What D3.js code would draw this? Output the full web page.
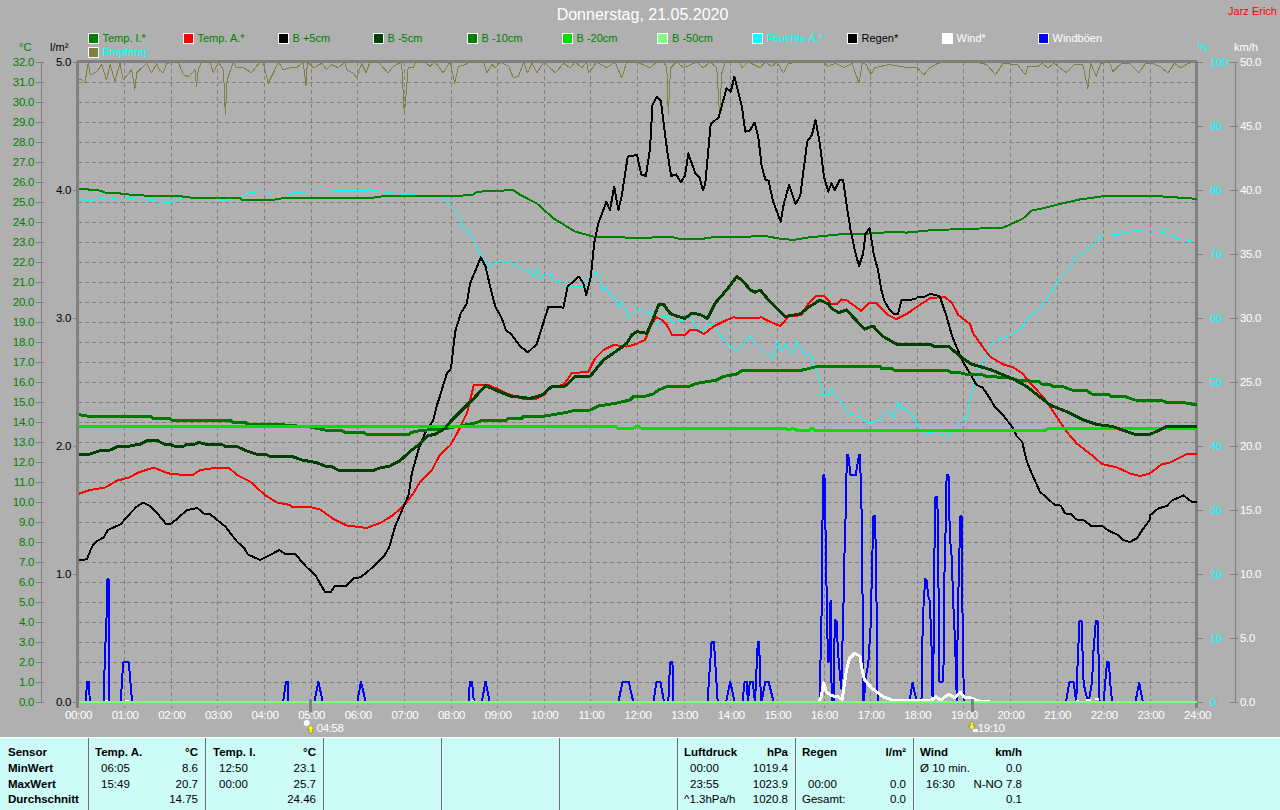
<!DOCTYPE html>
<html><head><meta charset="utf-8">
<script src="https://cdn.jsdelivr.net/npm/d3@7"></script>
<style>
html,body{margin:0;padding:0;background:#b0b0b0;overflow:hidden}
svg{display:block}
text{font-family:"Liberation Sans",Arial,sans-serif;font-size:11px}
.crisp{shape-rendering:crispEdges}
</style></head><body>
<svg id="c" width="1280" height="810"></svg>
<script>
const titleText="Donnerstag, 21.05.2020";
const authorText="Jarz Erich";
const hourLabels=["00:00","01:00","02:00","03:00","04:00","05:00","06:00","07:00","08:00","09:00","10:00","11:00","12:00","13:00","14:00","15:00","16:00","17:00","18:00","19:00","20:00","21:00","22:00","23:00","24:00"];
const tempTicks=d3.range(0,33);
const rainTicks=[0,1,2,3,4,5];
const humTicks=[0,10,20,30,40,50,60,70,80,90,100];
const windTicks=[0,5,10,15,20,25,30,35,40,45,50];
const legendRow1=["Temp. I.*","Temp. A.*","B +5cm","B -5cm","B -10cm","B -20cm","B -50cm","Feuchte A.*","Regen*","Wind*","Windböen"];
const legendRow1Colors=["#008000","#ff0000","#000000","#004000","#008000","#00e000","#80ff80","#00ffff","#000000","#ffffff","#0000ff"];
const legendRow1Text=["#008000","#008000","#008000","#008000","#008000","#008000","#008000","#00ffff","#000000","#ffffff","#ffffff"];
const legendRow2=["Empfang"];

const tempInside=[[0,25.65],[.22,25.63],[.26,25.6],[.48,25.57],[.59,25.47],[.91,25.43],[.94,25.38],[1.23,25.37],[1.51,25.3],[2.23,25.3],[2.26,25.23],[3.48,25.18],[3.51,25.1],[4.16,25.1],[4.37,25.18],[6.34,25.22],[6.62,25.32],[8.24,25.32],[8.49,25.38],[8.52,25.47],[8.74,25.55],[9.09,25.57],[9.33,25.6],[9.49,25.35],[9.84,24.93],[10.2,24.18],[10.66,23.52],[11.06,23.27],[11.56,23.27],[11.91,23.18],[12.7,23.27],[12.91,23.15],[13.41,23.15],[13.49,23.22],[14.41,23.27],[14.7,23.32],[15.02,23.18],[15.34,23.1],[15.63,23.22],[16.41,23.4],[17.09,23.43],[17.48,23.52],[17.77,23.47],[18.34,23.6],[19.06,23.65],[19.84,23.72],[20.13,24.02],[20.27,24.18],[20.45,24.57],[20.63,24.65],[21.06,24.9],[21.49,25.13],[22.03,25.3],[22.99,25.32],[23.92,25.17],[24,25.15]];

const tempOutside=[[0,10.4],[.26,10.6],[.59,10.73],[.84,11.07],[1.09,11.22],[1.3,11.48],[1.62,11.72],[1.94,11.43],[2.19,11.37],[2.48,11.37],[2.62,11.6],[2.98,11.72],[3.23,11.72],[3.41,11.35],[3.69,11.02],[4.01,10.35],[4.26,9.98],[4.55,9.85],[4.59,9.75],[4.98,9.75],[5.19,9.63],[5.48,9.15],[5.76,8.83],[6.19,8.7],[6.51,8.98],[6.76,9.35],[7,9.85],[7.19,10.43],[7.34,11.02],[7.59,11.6],[7.76,12.35],[7.99,12.85],[8.13,13.43],[8.34,14.43],[8.49,15.85],[8.81,15.85],[9.2,15.43],[9.49,15.18],[9.81,15.13],[9.99,15.35],[10.16,15.77],[10.41,15.85],[10.59,16.43],[10.95,16.52],[11.09,17.18],[11.27,17.6],[11.49,17.85],[11.77,17.77],[11.91,17.85],[12.16,18.1],[12.31,18.93],[12.41,19.23],[12.52,19.1],[12.63,18.85],[12.74,18.35],[13.02,18.35],[13.13,18.6],[13.27,18.6],[13.43,18.4],[13.63,18.77],[13.88,19.07],[14.06,19.23],[14.38,19.18],[14.66,19.23],[14.84,19.02],[15.06,18.8],[15.24,19.27],[15.52,19.35],[15.66,19.9],[15.84,20.32],[16,20.32],[16.16,19.9],[16.29,19.9],[16.37,20.13],[16.48,20.1],[16.8,19.55],[16.98,19.97],[17.12,19.93],[17.37,19.35],[17.55,19.15],[17.77,19.4],[17.98,19.73],[18.27,20.18],[18.59,20.27],[18.75,19.93],[18.88,19.35],[19.13,18.9],[19.2,18.43],[19.45,17.6],[19.56,17.27],[19.84,16.88],[20.06,16.73],[20.27,16.4],[20.42,15.93],[20.7,15.27],[20.99,14.27],[21.2,13.52],[21.42,12.93],[21.74,12.35],[21.96,11.9],[22.28,11.73],[22.56,11.43],[22.78,11.3],[22.99,11.43],[23.24,11.88],[23.42,11.97],[23.78,12.4],[24,12.4]];

const soilPlus5=[[0,7.1],[.19,7.13],[.3,7.77],[.39,8.02],[.55,8.23],[.64,8.6],[.91,8.88],[1.12,9.43],[1.26,9.77],[1.39,9.97],[1.55,9.8],[1.73,9.35],[1.89,8.9],[2.01,8.93],[2.34,9.6],[2.56,9.7],[2.69,9.43],[2.84,9.38],[3.16,8.77],[3.41,8.02],[3.57,7.68],[3.64,7.38],[3.91,7.1],[4.12,7.35],[4.32,7.6],[4.44,7.4],[4.66,7.4],[4.89,6.77],[5.09,6.35],[5.19,5.93],[5.3,5.5],[5.42,5.5],[5.51,5.8],[5.75,5.8],[5.91,6.18],[6.05,6.23],[6.19,6.47],[6.37,6.85],[6.56,7.27],[6.68,7.77],[6.8,8.77],[7.09,10.35],[7.16,11.43],[7.3,12.6],[7.44,13.43],[7.62,14.1],[7.69,14.77],[7.76,15.27],[7.91,16.43],[8,16.68],[8.09,18.52],[8.21,19.43],[8.34,19.93],[8.41,20.93],[8.64,22.23],[8.74,21.77],[8.84,20.77],[8.95,19.77],[9.09,19.18],[9.18,18.57],[9.29,18.4],[9.49,17.77],[9.65,17.48],[9.84,17.9],[10.09,19.77],[10.16,19.77],[10.41,19.72],[10.5,20.77],[10.74,21.27],[10.84,20.93],[10.9,20.35],[11,21.27],[11.07,22.93],[11.16,23.93],[11.33,25],[11.41,24.6],[11.5,25.77],[11.59,24.6],[11.66,25.27],[11.79,27.27],[11.99,27.35],[12.08,26.38],[12.18,26.3],[12.27,27.68],[12.32,29.85],[12.41,30.27],[12.5,30.07],[12.63,27.68],[12.72,26.3],[12.83,26.38],[12.93,25.98],[13.02,26.32],[13.09,27.43],[13.24,26.43],[13.33,26.23],[13.4,25.6],[13.45,25.85],[13.57,28.9],[13.74,29.23],[13.91,30.68],[14,30.52],[14.08,31.27],[14.24,29.77],[14.31,28.52],[14.41,28.57],[14.51,28.97],[14.59,28.27],[14.66,26.85],[14.74,26.13],[14.81,26.07],[14.91,25.02],[15.07,24.02],[15.14,24.93],[15.25,25.85],[15.39,24.9],[15.49,25.3],[15.64,28.02],[15.74,28.35],[15.82,29.1],[15.91,27.93],[16,26.27],[16.09,25.52],[16.16,25.93],[16.23,25.6],[16.34,26.1],[16.41,26.1],[16.48,24.93],[16.57,23.6],[16.66,22.6],[16.75,21.8],[16.84,22.43],[16.89,23.43],[16.98,23.68],[17.07,22.35],[17.16,21.6],[17.23,20.6],[17.3,20.02],[17.41,19.6],[17.5,19.4],[17.59,19.4],[17.66,20.1],[17.95,20.13],[18.02,20.27],[18.13,20.23],[18.28,20.4],[18.48,20.3],[18.63,19.27],[18.73,18.43],[18.81,17.93],[18.98,17.02],[19.13,16.43],[19.27,15.85],[19.4,15.73],[19.56,15.18],[19.66,14.77],[19.84,14.35],[20.06,13.68],[20.13,13.3],[20.25,13.02],[20.35,12.02],[20.47,11.35],[20.63,10.52],[20.95,9.85],[21.08,9.82],[21.17,9.43],[21.31,9.38],[21.4,9.13],[21.56,9.1],[21.73,8.8],[21.96,8.82],[22.1,8.57],[22.31,8.35],[22.42,8.1],[22.56,8],[22.71,8.18],[22.85,8.68],[22.98,9.07],[23,9.35],[23.17,9.68],[23.35,9.8],[23.46,10.07],[23.71,10.33],[23.89,10],[24,10]];

const soilMinus5=[[0,12.38],[.26,12.4],[.48,12.57],[.69,12.6],[.84,12.77],[1.12,12.8],[1.34,12.9],[1.51,13.1],[1.68,13.1],[1.84,12.9],[1.98,12.88],[2.09,12.77],[2.26,12.78],[2.34,12.9],[2.51,12.9],[2.59,12.98],[2.76,12.88],[3.09,12.88],[3.16,12.78],[3.41,12.77],[3.62,12.55],[3.84,12.38],[4.05,12.35],[4.12,12.28],[4.59,12.28],[4.8,12.1],[5.12,11.97],[5.3,11.8],[5.44,11.77],[5.59,11.58],[6.34,11.58],[6.44,11.68],[6.69,11.8],[6.91,12.07],[7.12,12.52],[7.3,12.85],[7.51,13.32],[7.66,13.38],[7.87,13.68],[7.99,14.02],[8.2,14.52],[8.49,15.18],[8.74,15.82],[8.95,15.6],[9.27,15.3],[9.7,15.18],[9.95,15.35],[10.16,15.77],[10.45,15.8],[10.66,16.27],[10.99,16.3],[11.27,17.1],[11.63,17.68],[11.77,17.93],[11.88,18.35],[11.99,18.52],[12.2,18.43],[12.34,19.18],[12.45,19.85],[12.56,19.88],[12.7,19.43],[12.84,19.3],[13.02,19.18],[13.16,19.43],[13.34,19.38],[13.5,19.18],[13.66,19.93],[13.91,20.6],[14.13,21.27],[14.24,21.1],[14.41,20.63],[14.52,20.48],[14.63,20.6],[14.84,20.02],[14.91,19.88],[15.16,19.27],[15.48,19.4],[15.69,19.77],[15.91,20.1],[16.09,19.9],[16.19,19.63],[16.32,19.47],[16.48,19.6],[16.87,18.65],[17.05,18.8],[17.27,18.27],[17.55,17.9],[18.27,17.9],[18.34,17.8],[18.66,17.8],[18.98,17.18],[19.16,16.9],[19.59,16.6],[20.06,16.15],[20.35,15.77],[20.85,14.85],[21.2,14.52],[21.56,14.1],[21.85,13.88],[22.2,13.77],[22.64,13.4],[22.99,13.38],[23.35,13.77],[24,13.77]];

const soilMinus10=[[0,14.38],[.19,14.3],[1.55,14.3],[1.59,14.2],[1.94,14.2],[2.01,14.1],[3.26,14.1],[3.3,14],[3.59,14],[3.62,13.9],[4.26,13.88],[4.98,13.75],[5.3,13.6],[5.66,13.57],[5.73,13.48],[6.12,13.48],[6.19,13.38],[7.09,13.38],[7.16,13.48],[7.34,13.58],[7.84,13.65],[8.49,13.93],[8.7,14.1],[9.2,14.1],[9.23,14.18],[9.52,14.18],[9.56,14.3],[10.02,14.3],[10.45,14.47],[10.63,14.57],[10.99,14.6],[11.16,14.8],[11.52,14.93],[11.84,15.1],[11.91,15.27],[12.13,15.27],[12.34,15.4],[12.45,15.6],[12.63,15.77],[13.13,15.8],[13.27,15.93],[13.7,16.1],[13.84,16.27],[14.13,16.4],[14.24,16.57],[15.48,16.57],[15.69,16.68],[15.84,16.77],[17.2,16.77],[17.23,16.68],[17.45,16.68],[17.52,16.57],[18.66,16.57],[18.73,16.48],[18.91,16.47],[19.06,16.38],[19.41,16.35],[19.49,16.27],[19.92,16.23],[20.13,16.1],[20.6,16.02],[20.67,15.9],[20.85,15.87],[20.92,15.77],[21.13,15.77],[21.31,15.6],[21.63,15.57],[21.74,15.4],[22.1,15.38],[22.17,15.27],[22.46,15.27],[22.67,15.1],[23.24,15.08],[23.35,14.98],[23.71,14.97],[24,14.85]];

const soilMinus20=[[0,13.78],[11.52,13.78],[11.59,13.68],[11.91,13.68],[12,13.8],[12.09,13.68],[15.16,13.68],[15.24,13.6],[15.33,13.68],[15.41,13.6],[15.7,13.6],[15.74,13.7],[15.81,13.58],[20.74,13.58],[20.81,13.68],[24,13.68]];
const soilMinus50=[[0,0],[24,0]];
const rainfall=[[0,0],[24,0]];

const humidity=[[0,79.06],[.12,78.4],[.26,78.3],[.62,78.85],[.91,78.5],[1.34,78.85],[1.69,78.2],[1.98,78],[2.26,78.8],[2.84,78.8],[3.12,78.3],[3.51,78.96],[3.62,79.5],[3.98,79.84],[4.19,79.2],[4.48,79.1],[4.62,79.6],[5.26,79.8],[6.26,80],[6.59,79.7],[6.87,79.4],[7.8,78.96],[8.05,77.1],[8.16,76.35],[8.21,74.5],[8.34,74],[8.66,69.57],[8.81,68.1],[9.06,69.05],[9.17,68.5],[9.24,68.8],[9.45,68],[9.56,67.2],[9.69,67.5],[9.76,66.45],[9.84,67.75],[9.91,66.2],[10.04,67],[10.13,67],[10.24,65.5],[10.34,66],[10.45,65.5],[10.59,64.9],[10.81,64.9],[10.95,66.2],[11.13,67.2],[11.27,64.26],[11.34,65],[11.41,63.4],[11.5,63.6],[11.59,61.76],[11.66,62.7],[11.81,59.9],[12.02,61.5],[12.2,60.7],[12.27,61],[12.41,58.9],[12.52,60.2],[12.63,60.3],[12.75,59.26],[12.99,59.7],[13.16,59.9],[13.31,58.2],[13.41,58],[13.49,59.15],[13.63,58.9],[13.77,57.3],[14.02,55.25],[14.16,55],[14.41,57.2],[14.59,55.1],[14.74,55],[14.9,53.6],[15,56.4],[15.08,54.7],[15.16,55.9],[15.34,54.5],[15.41,56.55],[15.52,54.7],[15.74,54.05],[15.87,50.8],[16,48],[16.09,48],[16.16,49.16],[16.23,48],[16.34,47.2],[16.52,45.1],[16.8,44.5],[16.91,43.7],[17.16,43.54],[17.3,45.1],[17.41,45.6],[17.5,44.3],[17.59,46.9],[17.66,45.9],[17.77,45.7],[17.91,44.6],[18.02,43],[18.18,42.1],[18.3,42.1],[18.48,41.9],[18.64,41.45],[18.81,42.76],[18.88,43.8],[19.06,44.3],[19.14,47.7],[19.24,49.8],[19.34,52.4],[19.49,54.2],[19.59,55.9],[19.7,56.6],[19.99,57.3],[20.24,58.4],[20.35,59.95],[20.6,61.25],[20.88,64.1],[21.06,66.2],[21.28,67.8],[21.38,69.3],[21.63,70.6],[21.81,71.7],[21.96,72.9],[22.28,73],[22.64,73.64],[22.99,73.85],[23.14,73.75],[23.53,72.45],[23.92,72]];

const reception=[[0,97.2],[.08,97.2],[.15,96.7],[.22,100],[.26,98],[.4,98.5],[.51,99.6],[.61,97.2],[.69,99.6],[.79,97],[.9,99.8],[.97,97.2],[1.15,98.8],[1.22,95.7],[1.26,98.3],[1.47,99.8],[1.58,98.3],[1.69,99.8],[1.74,98.8],[1.83,98.3],[1.9,99.8],[2.15,100],[2.26,98],[2.37,97.7],[2.51,98.8],[2.54,96.2],[2.58,98.8],[2.65,100],[2.83,100],[2.9,98.4],[3.01,100],[3.12,98.8],[3.16,91.8],[3.2,97.2],[3.26,98.5],[3.33,100],[3.4,99.1],[3.55,99.1],[3.72,98.3],[3.9,100],[3.97,100],[4.08,96.7],[4.19,98.3],[4.3,100],[4.4,98.8],[4.55,99.1],[4.69,99.1],[4.83,100],[4.89,96.3],[4.92,100],[5.05,99.1],[5.23,99.8],[5.33,98.8],[5.44,99.6],[5.58,99.1],[5.73,100],[5.76,98.8],[5.9,98.3],[5.98,97.5],[6.08,99.8],[6.18,98.3],[6.26,100],[6.44,100],[6.55,99.1],[6.65,98.3],[6.76,99.3],[6.83,99.6],[6.94,100],[7,91.8],[7.05,96.2],[7.08,99.1],[7.19,99.1],[7.25,100],[7.44,100],[7.55,99.3],[7.66,100],[7.73,99.3],[7.83,98.3],[7.98,100],[8.08,96.7],[8.16,99.3],[8.31,99.6],[8.41,100],[8.7,100],[8.77,98.3],[8.88,99.6],[8.95,99.1],[9.06,100],[9.24,99.3],[9.34,97.5],[9.45,97.8],[9.56,100],[9.64,98.3],[9.74,99.8],[9.84,98.3],[9.99,100],[10.24,98.3],[10.41,99.8],[10.56,99.1],[10.66,100],[10.81,99.1],[10.91,100],[10.95,98.3],[11.13,100],[11.34,99.1],[11.52,100],[11.66,97.5],[11.77,100],[11.99,100],[12.27,99.1],[12.41,100],[12.56,100],[12.63,99.1],[12.66,91.8],[12.71,99.1],[12.84,100],[12.99,99.1],[13.27,100],[13.41,99.1],[13.56,100],[13.7,99.1],[13.76,91.8],[13.81,98.3],[13.88,100],[14.2,100],[14.24,99.1],[14.38,100],[14.63,99.1],[14.74,100],[14.88,99.3],[14.99,100],[15.13,98.3],[15.24,99.8],[15.63,100],[15.99,100],[16.08,99.3],[16.25,99.8],[16.43,99.1],[16.6,99.8],[16.75,96.7],[16.82,99.8],[16.91,99.6],[17,98],[17.09,99.1],[17.39,99.6],[17.65,99.3],[17.83,99.1],[18,99.1],[18.14,98],[18.27,99.1],[18.44,99.8],[18.7,100],[19.27,100],[19.49,99.6],[19.68,98],[19.84,99.8],[20.15,99.6],[20.32,98],[20.37,99.3],[20.59,99.3],[20.67,99.8],[20.8,99.1],[20.94,99.8],[21.2,98.3],[21.37,99.6],[21.55,99.6],[21.66,95.9],[21.72,99.8],[21.84,97.8],[21.94,99.8],[22.12,100],[22.2,98.5],[22.38,99.8],[22.55,99.8],[22.75,98.3],[22.9,99.8],[23.03,99.8],[23.21,99.3],[23.38,98.3],[23.52,99.8],[23.65,99.1],[23.82,99.8],[24,100]];

const gusts=[[0,0],[.16,0],[.2,1.6],[.24,1.6],[.25,0],[.565,0],[.57,3.1],[.61,6.3],[.63,9.6],[.655,9.6],[.66,0],[.915,0],[.97,3.1],[1.09,3.1],[1.16,0],[4.4,0],[4.46,1.6],[4.5,1.6],[4.51,0],[5.07,0],[5.155,1.6],[5.25,0],[5.99,0],[6.07,1.6],[6.17,0],[8.39,0],[8.4,1.6],[8.45,1.6],[8.49,0],[8.66,0],[8.74,1.6],[8.83,0],[11.59,0],[11.68,1.6],[11.81,1.6],[11.91,0],[12.34,0],[12.41,1.6],[12.49,1.6],[12.57,0],[12.66,0],[12.68,1.6],[12.7,3.1],[12.75,3.1],[12.76,0],[13.5,0],[13.59,4.7],[13.64,4.7],[13.72,0],[13.9,0],[13.99,1.6],[14.08,0],[14.25,0],[14.3,1.6],[14.34,1.6],[14.37,0],[14.41,1.6],[14.47,1.6],[14.52,0],[14.58,4.7],[14.61,4.7],[14.63,1.6],[14.66,0],[14.74,1.6],[14.81,1.6],[14.92,0],[15.91,0],[15.93,4.3],[15.96,8.7],[15.965,13.3],[15.98,17.7],[16.01,17.7],[16.03,13.9],[16.05,10.4],[16.06,6.8],[16.09,3.1],[16.12,3.3],[16.14,7.9],[16.15,7.9],[16.16,1.6],[16.18,0],[16.21,0],[16.23,6.4],[16.27,6.3],[16.3,3.9],[16.34,2.2],[16.37,1.04],[16.42,7.9],[16.44,11.6],[16.47,15.4],[16.49,19.3],[16.52,19.3],[16.57,17.7],[16.68,17.7],[16.75,19.3],[16.77,19.3],[16.8,16],[16.82,12.1],[16.84,0],[16.86,0],[16.88,1.6],[16.95,3],[17,5.9],[17.03,10.5],[17.06,14.5],[17.1,14.5],[17.11,10.8],[17.13,7.2],[17.15,0],[17.83,0],[17.9,1.5],[17.99,0],[18.09,0],[18.11,4.8],[18.13,7.2],[18.17,9.6],[18.2,9.5],[18.24,8.2],[18.27,7.9],[18.31,4],[18.33,0],[18.35,4],[18.37,12],[18.39,16],[18.43,16],[18.45,12.1],[18.47,1.6],[18.56,1.6],[18.58,9.5],[18.61,13.7],[18.63,17.7],[18.67,17.7],[18.7,12.9],[18.74,11.3],[18.77,7.9],[18.81,4.8],[18.85,0],[18.87,7.2],[18.9,10.8],[18.92,14.5],[18.95,14.5],[18.97,7.2],[19,0],[21.19,0],[21.26,1.5],[21.28,1.6],[21.35,1.6],[21.41,0],[21.44,3.1],[21.48,6.3],[21.53,6.3],[21.55,3.1],[21.57,1.4],[21.64,.3],[21.68,.1],[21.75,1.6],[21.78,4],[21.83,6.3],[21.87,6.3],[21.9,1.9],[21.91,0],[22,0],[22.03,1.5],[22.07,3.1],[22.11,3.1],[22.14,1.4],[22.18,0],[22.68,0],[22.76,1.5],[22.84,0],[24,0]];

const windEarly=[[[.58,.1],[.65,.1]],[[1,.1],[1.1,.1]],[[8.42,.1],[8.5,.1]],[[21.4,.1],[21.47,.1]],[[21.62,.15],[21.72,.15]],[[21.82,.25],[21.9,.25]]];
const windMain=[[15.89,0],[15.94,.4],[15.99,1.5],[16.05,.8],[16.16,.5],[16.3,.4],[16.39,.2],[16.44,1.4],[16.48,2.5],[16.55,3.4],[16.66,3.8],[16.77,3.6],[16.82,2.5],[16.87,1.7],[17.05,1],[17.27,.4],[17.48,.13],[17.99,.1],[18.13,.1],[18.31,.13],[18.4,.44],[18.5,.13],[18.67,.6],[18.81,.34],[18.92,.78],[19,.39],[19.13,.34],[19.31,.08],[19.56,.05]];

const sunrise={hour:4.97,label:"04:58"};
const sunset={hour:19.17,label:"19:10"};

const sensorNames=["Sensor","MinWert","MaxWert","Durchschnitt"];
const sensorA=["Temp. A.","06:05","15:49",""];
const sensorAVal=["°C","8.6","20.7","14.75"];
const sensorI=["Temp. I.","12:50","00:00",""];
const sensorIVal=["°C","23.1","25.7","24.46"];
const pressure=["Luftdruck","00:00","23:55","^1.3hPa/h"];
const pressureVal=["hPa","1019.4","1023.9","1020.8"];
const rainInfo=["Regen","","00:00","Gesamt:"];
const rainVal=["l/m²","","0.0","0.0"];
const windInfo=["Wind","Ø 10 min.","16:30",""];
const windVal=["km/h","0.0","N-NO 7.8","0.1"];

(function(){
const panelSep=[88.5,205,323,441,559,677.5,795.5,913.5];
const svg=d3.select("#c");
const GREY="#808080";
const pLeft=78,pRight=1197,pTop=62,pBottom=702;
const x=d3.scaleLinear().domain([0,24]).range([pLeft,pRight]);
const yT=d3.scaleLinear().domain([0,32]).range([pBottom,pTop]);
const yR=d3.scaleLinear().domain([0,5]).range([pBottom,pTop]);
const yH=d3.scaleLinear().domain([0,100]).range([pBottom,pTop]);
const yW=d3.scaleLinear().domain([0,50]).range([pBottom,pTop]);

svg.append("rect").attr("width",1280).attr("height",810).attr("fill","#b0b0b0");

const grid=svg.append("g").attr("class","crisp");
grid.selectAll(".h").data(tempTicks.slice(1,-1)).join("line").attr("class","h")
 .attr("x1",pLeft).attr("x2",pRight).attr("y1",d=>yT(d)).attr("y2",d=>yT(d))
 .attr("stroke",GREY).attr("stroke-dasharray","4 3");
grid.selectAll(".v").data(d3.range(1,24)).join("line").attr("class","v")
 .attr("x1",d=>x(d)).attr("x2",d=>x(d)).attr("y1",pTop).attr("y2",pBottom+6)
 .attr("stroke",GREY).attr("stroke-dasharray","4 3");

const frame=svg.append("g").attr("class","crisp");
frame.append("line").attr("x1",pLeft-1).attr("x2",pRight).attr("y1",pTop-1).attr("y2",pTop-1).attr("stroke",GREY).attr("stroke-width",3);
frame.append("line").attr("x1",pLeft-1).attr("x2",pLeft-1).attr("y1",pTop-1).attr("y2",pBottom+6).attr("stroke",GREY).attr("stroke-width",3);
frame.append("line").attr("x1",pRight-1).attr("x2",pRight-1).attr("y1",pTop-1).attr("y2",pBottom+6).attr("stroke",GREY).attr("stroke-width",3);

const lineOf=y=>d3.line().x(d=>x(d[0])).y(d=>y(d[1]));
function draw(data,y,color,w){
 svg.append("path").datum(data).attr("class","crisp").attr("fill","none")
  .attr("stroke",color).attr("stroke-width",w).attr("stroke-linejoin","round").attr("d",lineOf(y));
}
draw(reception,yH,"#808040",1);
draw(humidity,yH,"#00ffff",1);
draw(tempInside,yT,"#008000",2);
draw(rainfall,yR,"#000000",2);
draw(gusts,yW,"#0000ff",2);
windEarly.forEach(s=>draw(s,yW,"#ffffff",2));
draw(windMain,yW,"#ffffff",3);
draw(tempOutside,yT,"#ff0000",2);
draw(soilPlus5,yT,"#000000",2);
draw(soilMinus10,yT,"#007800",3);
draw(soilMinus20,yT,"#00e000",3);
draw(soilMinus5,yT,"#004000",3);
draw(soilMinus50,yT,"#80ff80",2);

function styleAxis(g,color,lineColor){
 g.selectAll("text").attr("fill",color).style("font-size","11.5px").style("letter-spacing","-0.3px");
 g.selectAll("line").attr("stroke",lineColor).attr("class","crisp");
 g.selectAll("path").attr("stroke",lineColor).attr("class","crisp");
}
const aT=svg.append("g").attr("transform","translate(41,0)")
 .call(d3.axisLeft(yT).tickValues(tempTicks).tickFormat(d3.format(".1f")).tickSize(5).tickPadding(2));
styleAxis(aT,"#008000",GREY);
aT.selectAll(".tick line").attr("x2",3).attr("x1",-5);
const aR=svg.append("g").attr("transform","translate(78,0)")
 .call(d3.axisLeft(yR).tickValues(rainTicks).tickFormat(d3.format(".1f")).tickSize(5).tickPadding(2));
styleAxis(aR,"#000000",GREY);
aR.select(".domain").remove();
const aH=svg.append("g").attr("transform","translate(1197,0)")
 .call(d3.axisRight(yH).tickValues(humTicks).tickSize(6).tickPadding(3));
styleAxis(aH,"#00ffff",GREY);
aH.select(".domain").remove();
aH.selectAll("text").attr("dx",4);
const aW=svg.append("g").attr("transform","translate(1235,0)")
 .call(d3.axisRight(yW).tickValues(windTicks).tickFormat(d3.format(".1f")).tickSize(3).tickPadding(2));
styleAxis(aW,"#ffffff",GREY);
aW.selectAll(".tick line").attr("x1",-5);
const aX=svg.append("g").attr("transform",`translate(0,${pBottom})`)
 .call(d3.axisBottom(x).tickValues(d3.range(0,25)).tickFormat(d=>hourLabels[d]).tickSize(0).tickPadding(9));
aX.select(".domain").remove();
aX.selectAll("text").attr("fill","#ffffff").style("font-size","11.5px").style("letter-spacing","-0.4px");

function txt(s,xp,yp,color,opt={}){
 return svg.append("text").attr("x",xp).attr("y",yp).attr("fill",color)
  .attr("text-anchor",opt.anchor||"start").style("font-size",(opt.size||11)+"px")
  .style("font-weight",opt.bold?"bold":"normal").text(s);
}
txt("°C",19,51,"#008000");
txt("l/m²",50,51,"#000000");
txt("%",1198,51,"#00ffff");
txt("km/h",1234,51,"#ffffff");
txt(titleText,642.5,20,"#ffffff",{size:16,anchor:"middle"});
txt(authorText,1277,15,"#ff0000",{anchor:"end"});

const legendX=[88,183,278,373,467,562,657.5,752,847,942,1038];
legendRow1.forEach((name,i)=>{
 svg.append("rect").attr("class","crisp").attr("x",legendX[i]).attr("y",33).attr("width",10).attr("height",10)
  .attr("fill",legendRow1Colors[i]).attr("stroke","#ffffff");
 txt(name,legendX[i]+14.5,42,legendRow1Text[i]);
});
legendRow2.forEach(name=>{
 svg.append("rect").attr("class","crisp").attr("x",88).attr("y",47).attr("width",10).attr("height",10)
  .attr("fill","#808040").attr("stroke","#ffffff");
 txt(name,102.5,56,"#00ffff");
});

[sunrise,sunset].forEach(s=>{
 svg.append("rect").attr("class","crisp").attr("x",x(s.hour)-1).attr("y",pBottom-3).attr("width",3).attr("height",13).attr("fill",GREY);
});
svg.append("circle").attr("cx",x(sunrise.hour)-3).attr("cy",723).attr("r",3).attr("fill","#ffffff");
svg.append("path").attr("d",`M${x(sunrise.hour)+1},725l3.5,4h-2v4h-3v-4h-2z`).attr("fill","#ffff00").attr("stroke","#555").attr("stroke-width",0.4);
txt(sunrise.label,x(sunrise.hour)+7,732,"#ffffff",{size:11.5}).style("letter-spacing","-0.4px");
svg.append("path").attr("d",`M${x(sunset.hour)-1.5},722h3v4h2l-3.5,4l-3.5,-4h2z`).attr("fill","#ffff00").attr("stroke","#555").attr("stroke-width",0.4);
svg.append("rect").attr("x",x(sunset.hour)+1).attr("y",729).attr("width",5).attr("height",3).attr("fill","#ffffff");
txt(sunset.label,x(sunset.hour)+6,732,"#ffffff",{size:11.5}).style("letter-spacing","-0.4px");

svg.append("rect").attr("class","crisp").attr("x",0).attr("y",738).attr("width",1280).attr("height",72).attr("fill","#ccfbf8");
svg.append("line").attr("class","crisp").attr("x1",0).attr("x2",1280).attr("y1",737.5).attr("y2",737.5).attr("stroke","#ffffff");
svg.selectAll(".sep").data(panelSep).join("line").attr("class","crisp sep")
 .attr("x1",d=>d).attr("x2",d=>d).attr("y1",738).attr("y2",810).attr("stroke","#707070");
const rowY=[756,772,788,803];
sensorNames.forEach((r,i)=>txt(r,8,rowY[i],"#000000",{bold:true,size:11.5}));
function col(labels,vals,xl,xr){
 labels.forEach((s,i)=>{ if(s) txt(s,i===0||s.startsWith("^")||s==="Gesamt:"||s.startsWith("Ø")?xl:xl+6,rowY[i],"#000000",{bold:i===0,size:11.5}); });
 vals.forEach((s,i)=>{ if(s) txt(s,xr,rowY[i],"#000000",{bold:i===0,size:11.5,anchor:"end"}); });
}
col(sensorA,sensorAVal,95,198);
col(sensorI,sensorIVal,213,316);
col(pressure,pressureVal,684,788);
col(rainInfo,rainVal,802,906);
col(windInfo,windVal,920,1022);
})();
</script>
</body></html>
